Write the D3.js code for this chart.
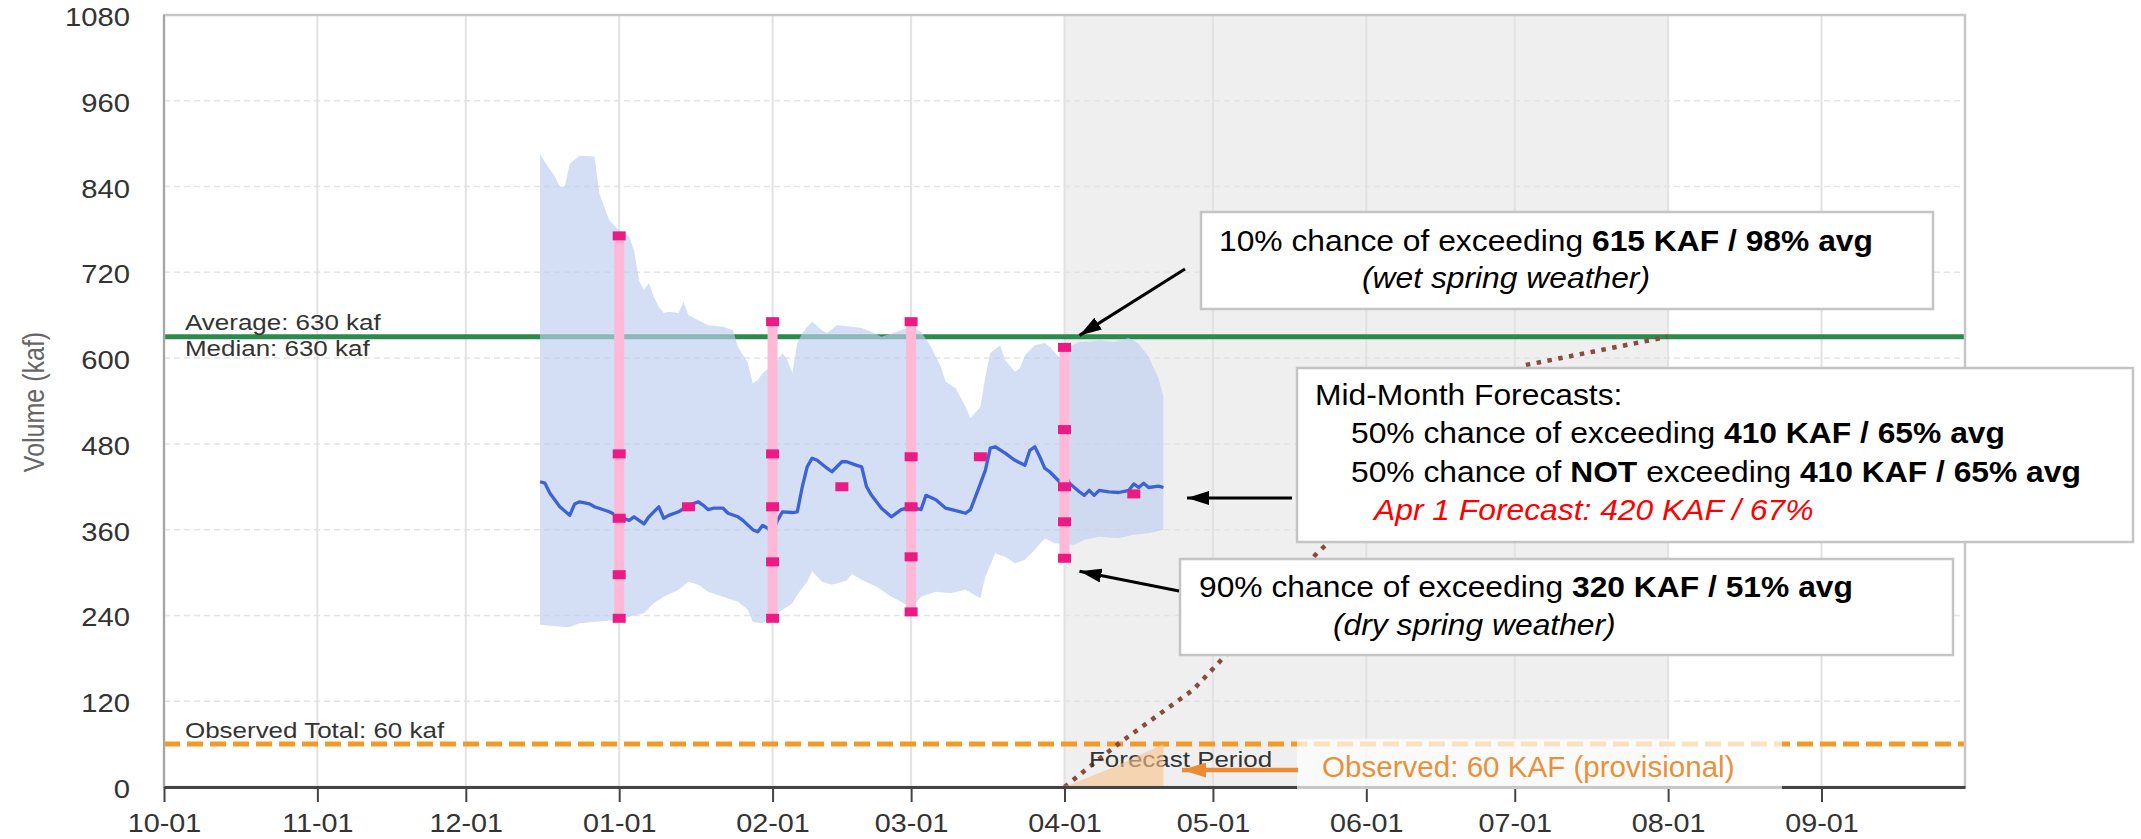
<!DOCTYPE html>
<html>
<head>
<meta charset="utf-8">
<script src="https://cdn.jsdelivr.net/npm/d3@7"></script>
<style>
  html, body { margin: 0; padding: 0; background: #fff; }
  svg { display: block; }
</style>
</head>
<body>
<svg id="chart" width="2141" height="839"></svg>
<script>
// ---------------------------------------------------------------
// Water-year volume forecast chart (Oct 1 – Sep 30), values in kaf
// ---------------------------------------------------------------
const monthTicks = ["10-01","11-01","12-01","01-01","02-01","03-01","04-01","05-01","06-01","07-01","08-01","09-01"];
const volumeTicks = [0, 120, 240, 360, 480, 600, 720, 840, 960, 1080];

const averageVolume = 630;
const medianVolume = 630;
const observedTotal = 60;
const forecastPeriod = ["04-01", "08-01"];

// Daily forecast envelope, upper edge
const bandUpper = [
  ["12-16",886],["12-17",874],["12-19",854],["12-20",840],["12-21",840],["12-22",872],["12-24",883],
  ["12-27",882],["12-28",830],["12-30",793],["01-01",779],["01-03",770],["01-04",751],["01-05",709],
  ["01-06",695],["01-07",705],["01-08",686],["01-09",672],["01-10",663],["01-11",665],["01-13",663],
  ["01-14",679],["01-15",660],["01-17",653],["01-19",646],["01-22",644],["01-24",639],["01-25",616],
  ["01-27",593],["01-28",565],["01-29",569],["01-30",579],["02-01",590],["02-02",597],["02-03",607],
  ["02-04",597],["02-05",579],["02-06",621],["02-07",635],["02-08",644],["02-09",651],["02-11",639],
  ["02-12",635],["02-14",646],["02-17",644],["02-19",642],["02-21",637],["02-23",630],["02-27",639],
  ["03-01",645],["03-03",637],["03-05",616],["03-07",588],["03-08",567],["03-10",558],["03-12",532],
  ["03-13",516],["03-15",532],["03-16",574],["03-17",607],["03-19",618],["03-20",597],["03-22",581],
  ["03-23",586],["03-24",604],["03-26",618],["03-28",621],["03-29",616],["03-31",600],["04-01",612],
  ["04-02",616],["04-04",623],["04-06",623],["04-08",625],["04-11",623],["04-14",628],["04-16",620],
  ["04-18",602],["04-20",572],["04-21",546]
];

// Daily forecast envelope, lower edge
const bandLower = [
  ["12-16",227],["12-21",224],["12-22",224],["12-24",229],["01-01",234],["01-03",238],["01-06",243],
  ["01-08",257],["01-10",266],["01-13",276],["01-15",287],["01-17",283],["01-19",273],["01-22",266],
  ["01-25",259],["01-27",248],["01-28",231],["01-30",229],["02-02",243],["02-05",257],["02-06",269],
  ["02-08",287],["02-09",302],["02-11",287],["02-13",283],["02-16",289],["02-17",298],["02-19",290],
  ["02-22",280],["02-25",266],["02-27",259],["03-01",250],["03-03",266],["03-06",273],["03-09",271],
  ["03-12",276],["03-15",264],["03-16",294],["03-18",327],["03-20",322],["03-22",313],["03-24",318],
  ["03-26",332],["03-28",348],["03-30",341],["04-03",339],["04-05",346],["04-08",350],["04-12",348],
  ["04-15",353],["04-18",355],["04-21",360]
];

// Daily median forecast
const medianForecast = [
  ["12-16",427],["12-17",425],["12-18",411],["12-20",392],["12-22",380],["12-23",396],["12-24",399],
  ["12-26",396],["12-27",392],["12-30",385],["01-01",378],["01-03",373],["01-04",378],["01-06",368],
  ["01-07",378],["01-09",392],["01-10",376],["01-11",380],["01-13",385],["01-15",394],["01-17",399],
  ["01-18",394],["01-19",388],["01-20",390],["01-22",390],["01-23",383],["01-25",378],["01-26",373],
  ["01-28",360],["01-29",357],["01-30",366],["01-31",362],["02-01",355],["02-02",373],["02-03",385],
  ["02-05",384],["02-06",385],["02-07",420],["02-08",448],["02-09",460],["02-10",457],["02-12",446],
  ["02-13",441],["02-15",455],["02-16",455],["02-18",450],["02-19",448],["02-20",420],["02-21",408],
  ["02-23",390],["02-25",378],["02-27",388],["03-01",392],["03-03",388],["03-04",408],["03-06",402],
  ["03-08",390],["03-11",385],["03-12",383],["03-13",388],["03-14",406],["03-16",443],["03-17",474],
  ["03-18",476],["03-20",467],["03-22",457],["03-24",450],["03-25",471],["03-26",476],["03-27",462],
  ["03-28",446],["03-29",441],["03-31",427],["04-01",439],["04-02",425],["04-04",413],["04-05",408],
  ["04-06",415],["04-07",408],["04-08",415],["04-10",413],["04-12",412],["04-14",415],["04-15",424],
  ["04-16",419],["04-17",425],["04-18",419],["04-20",421],["04-21",419]
];

// Official first-of-month forecasts by exceedance probability
const forecastDates = ["01-01","02-01","03-01","04-01"];
const p90 = [236, 236, 245, 320];
const p70 = [297, 315, 322, 371];
const p50 = [376, 392, 392, 420];
const p30 = [466, 466, 462, 500];
const p10 = [771, 651, 651, 615];

// Mid-month 50% forecasts
const midMonthDates = ["01-15","02-15","03-15","04-15"];
const midMonth50 = [392, 420, 462, 410];

// Normal (average) cumulative volume through the forecast period
const normalCurve = [["04-01",0],["04-06",28],["04-12",61],["04-18",91],["04-27",136],["05-03",180],
                     ["05-22",327],["07-03",590],["08-01",630]];

// Observed cumulative volume so far
const observedCurve = [["04-01",0],["04-11",28],["04-21",60]];

// ---------------------------------------------------------------
const FONT = '"Liberation Sans", Arial, Helvetica, sans-serif';
const parseMD = md => {
  const [m, d] = md.split("-").map(Number);
  return new Date(Date.UTC(m >= 10 ? 2022 : 2023, m - 1, d));
};

const svg = d3.select("#chart").attr("font-family", FONT);
const plot = { left: 164, right: 1965, top: 15, bottom: 787 };

const x = d3.scaleUtc().domain([parseMD("10-01"), parseMD("09-30")]).range([plot.left, plot.right]);
const y = d3.scaleLinear().domain([0, 1080]).range([plot.bottom, plot.top]);

const pct = v => Math.round(v / averageVolume * 100);

// markers for the callout arrows
const defs = svg.append("defs");
function arrowMarker(id, color, len, wid) {
  defs.append("marker").attr("id", id)
    .attr("markerUnits", "userSpaceOnUse")
    .attr("markerWidth", len).attr("markerHeight", wid)
    .attr("refX", len).attr("refY", wid / 2).attr("orient", "auto")
    .append("path").attr("d", `M0,0L${len},${wid / 2}L0,${wid}Z`).attr("fill", color);
}
arrowMarker("arrowBlack", "#000", 22, 14);
arrowMarker("arrowOrange", "#ec8a35", 24, 15);

svg.append("rect").attr("width", 2141).attr("height", 839).attr("fill", "#fff");

// forecast period shading
svg.append("rect")
  .attr("x", x(parseMD(forecastPeriod[0])))
  .attr("y", plot.top)
  .attr("width", x(parseMD(forecastPeriod[1])) - x(parseMD(forecastPeriod[0])))
  .attr("height", plot.bottom - plot.top)
  .attr("fill", "#efefef");

// grid
svg.append("g").selectAll("line")
  .data(volumeTicks.filter(v => v > 0 && v < 1080))
  .join("line")
  .attr("x1", plot.left).attr("x2", plot.right)
  .attr("y1", d => y(d)).attr("y2", d => y(d))
  .attr("stroke", "#e4e4e4").attr("stroke-width", 1.5).attr("stroke-dasharray", "6,4");

svg.append("g").selectAll("line")
  .data(monthTicks.slice(1).map(parseMD))
  .join("line")
  .attr("x1", d => x(d)).attr("x2", d => x(d))
  .attr("y1", plot.top).attr("y2", plot.bottom)
  .attr("stroke", "#e2e2e2").attr("stroke-width", 2);

// median and average reference lines
svg.append("line")
  .attr("x1", plot.left).attr("x2", plot.right)
  .attr("y1", y(medianVolume)).attr("y2", y(medianVolume))
  .attr("stroke", "#999").attr("stroke-width", 1.5).attr("stroke-dasharray", "3,3");
svg.append("line")
  .attr("x1", plot.left).attr("x2", plot.right)
  .attr("y1", y(averageVolume)).attr("y2", y(averageVolume))
  .attr("stroke", "#2d8a4e").attr("stroke-width", 5);

// observed total reference line
svg.append("line")
  .attr("x1", plot.left).attr("x2", plot.right)
  .attr("y1", y(observedTotal)).attr("y2", y(observedTotal))
  .attr("stroke", "#f39a26").attr("stroke-width", 5).attr("stroke-dasharray", "16,7");

// forecast envelope
const pt = d3.line().x(d => x(parseMD(d[0]))).y(d => y(d[1]));
svg.append("path")
  .attr("d", pt(bandUpper.concat(bandLower.slice().reverse())) + "Z")
  .attr("fill", "rgb(190,206,240)").attr("fill-opacity", 0.66);

// normal cumulative volume
svg.append("path")
  .attr("d", pt(normalCurve))
  .attr("fill", "none").attr("stroke", "#8a4b3c").attr("stroke-width", 4.5)
  .attr("stroke-dasharray", "4.5,6.5");

// chart text helper: the chart's text is drawn slightly wide
const CHART_SX = 1.18;
function chartText(g, str, tx, ty, size, anchor, color) {
  return g.append("text")
    .attr("transform", `translate(${tx},${ty}) scale(${CHART_SX},1)`)
    .attr("font-size", size).attr("text-anchor", anchor || "start")
    .attr("fill", color || "#333").text(str);
}

chartText(svg, "Forecast Period", 1089, 767, 22);

// observed cumulative volume
svg.append("path")
  .attr("d", d3.area().x(d => x(parseMD(d[0]))).y0(y(0)).y1(d => y(d[1]))(observedCurve))
  .attr("fill", "#f8c48a").attr("fill-opacity", 0.62);

// median forecast trace
svg.append("path")
  .attr("d", pt(medianForecast))
  .attr("fill", "none").attr("stroke", "#3d63d3").attr("stroke-width", 3.3)
  .attr("stroke-linejoin", "round");

// exceedance bars with markers
const bars = svg.append("g");
forecastDates.forEach((md, i) => {
  const cx = x(parseMD(md));
  bars.append("rect")
    .attr("x", cx - 5).attr("width", 10)
    .attr("y", y(p10[i])).attr("height", y(p90[i]) - y(p10[i]))
    .attr("fill", "#ffb8d6");
  [p90[i], p70[i], p50[i], p30[i], p10[i]].forEach(v => {
    bars.append("rect")
      .attr("x", cx - 6.5).attr("y", y(v) - 4.5)
      .attr("width", 13).attr("height", 9).attr("fill", "#ec1a84");
  });
});
midMonthDates.forEach((md, i) => {
  bars.append("rect")
    .attr("x", x(parseMD(md)) - 6.5).attr("y", y(midMonth50[i]) - 4.5)
    .attr("width", 13).attr("height", 9).attr("fill", "#ec1a84");
});

// plot frame
svg.append("rect")
  .attr("x", plot.left).attr("y", plot.top)
  .attr("width", plot.right - plot.left).attr("height", plot.bottom - plot.top)
  .attr("fill", "none").attr("stroke", "#c6c6c6").attr("stroke-width", 2.5);
svg.append("line")
  .attr("x1", plot.left).attr("x2", plot.left).attr("y1", plot.top).attr("y2", plot.bottom)
  .attr("stroke", "#9a9a9a").attr("stroke-width", 1.5);

// axes
const gx = svg.append("g")
  .attr("transform", `translate(0,${plot.bottom})`)
  .call(d3.axisBottom(x)
    .tickValues(monthTicks.map(parseMD))
    .tickFormat(d3.utcFormat("%m-%d"))
    .tickSize(15).tickSizeOuter(0))
  .attr("font-family", FONT).attr("font-size", 25);
gx.select(".domain").attr("stroke", "#444").attr("stroke-width", 3);
gx.selectAll(".tick line").attr("stroke", "#444").attr("stroke-width", 2);
gx.selectAll(".tick text")
  .attr("y", 0).attr("dy", null)
  .attr("transform", `translate(0,45) scale(1.15,1)`)
  .attr("fill", "#333");

const gy = svg.append("g")
  .attr("transform", `translate(${plot.left},0)`)
  .call(d3.axisLeft(y).tickValues(volumeTicks).tickFormat(d3.format("d")).tickSize(0).tickPadding(0))
  .attr("font-family", FONT).attr("font-size", 25);
gy.select(".domain").remove();
gy.selectAll(".tick text")
  .attr("x", null).attr("dy", "0.42em")
  .attr("transform", `translate(-34,0) scale(1.17,1)`)
  .attr("fill", "#333");

svg.append("text")
  .attr("transform", `translate(44,402) scale(1.2,1) rotate(-90)`)
  .attr("font-size", 25).attr("text-anchor", "middle").attr("fill", "#666")
  .text("Volume (kaf)");

// reference line labels
chartText(svg, `Average: ${averageVolume} kaf`, 185, y(averageVolume) - 7, 22);
chartText(svg, `Median: ${medianVolume} kaf`, 185, y(medianVolume) + 19, 22);
chartText(svg, `Observed Total: ${observedTotal} kaf`, 185, y(observedTotal) - 6, 22);

// observed callout
svg.append("rect")
  .attr("x", 1297).attr("y", 739).attr("width", 485).attr("height", 50)
  .attr("fill", "#fff").attr("fill-opacity", 0.7);
svg.append("line")
  .attr("x1", 1298).attr("x2", 1182).attr("y1", 770).attr("y2", 770)
  .attr("stroke", "#ec8a35").attr("stroke-width", 4.5)
  .attr("marker-end", "url(#arrowOrange)");
svg.append("text")
  .attr("transform", `translate(1322,777) scale(1.02,1)`)
  .attr("font-size", 29).attr("fill", "#e8913c")
  .text(`Observed: ${observedTotal} KAF (provisional)`);

// forecast callouts
const NOTE_SX = 1.06;
function noteBox(bx, by, bw, bh, lines) {
  const g = svg.append("g");
  g.append("rect").attr("x", bx).attr("y", by).attr("width", bw).attr("height", bh)
    .attr("fill", "#fff").attr("stroke", "#c4c4c4").attr("stroke-width", 2.5);
  lines.forEach(l => {
    const t = g.append("text")
      .attr("transform", `translate(${l.x},${l.y}) scale(${NOTE_SX},1)`)
      .attr("font-size", 30).attr("fill", l.color || "#000")
      .attr("font-style", l.italic ? "italic" : "normal");
    l.parts.forEach(p => t.append("tspan").attr("font-weight", p[1] ? "bold" : "normal").text(p[0]));
  });
}
function arrow(x1, y1, x2, y2) {
  svg.append("line").attr("x1", x1).attr("y1", y1).attr("x2", x2).attr("y2", y2)
    .attr("stroke", "#000").attr("stroke-width", 3)
    .attr("marker-end", "url(#arrowBlack)");
}

const apr = forecastDates.length - 1;
const xApr = x(parseMD(forecastDates[apr]));

noteBox(1201, 212, 732, 97, [
  { x: 1219, y: 251, parts: [["10% chance of exceeding ", 0], [`${p10[apr]} KAF / ${pct(p10[apr])}% avg`, 1]] },
  { x: 1362, y: 288, italic: true, parts: [["(wet spring weather)", 0]] }
]);
arrow(1185, 269, xApr + 15, y(p10[apr]) - 12);

const mid = midMonth50[midMonth50.length - 1];
noteBox(1297, 368, 836, 174, [
  { x: 1315, y: 405, parts: [["Mid-Month Forecasts:", 0]] },
  { x: 1351, y: 443, parts: [["50% chance of exceeding ", 0], [`${mid} KAF / ${pct(mid)}% avg`, 1]] },
  { x: 1351, y: 482, parts: [["50% chance of ", 0], ["NOT", 1], [" exceeding ", 0], [`${mid} KAF / ${pct(mid)}% avg`, 1]] },
  { x: 1374, y: 520, italic: true, color: "#ff0000", parts: [[`Apr 1 Forecast: ${p50[apr]} KAF / ${pct(p50[apr])}%`, 0]] }
]);
arrow(1292, 498, 1187, 498);

noteBox(1180, 559, 773, 96, [
  { x: 1199, y: 597, parts: [["90% chance of exceeding ", 0], [`${p90[apr]} KAF / ${pct(p90[apr])}% avg`, 1]] },
  { x: 1333, y: 635, italic: true, parts: [["(dry spring weather)", 0]] }
]);
arrow(1179, 591, xApr + 15, y(p90[apr]) + 13);
</script>
</body>
</html>
